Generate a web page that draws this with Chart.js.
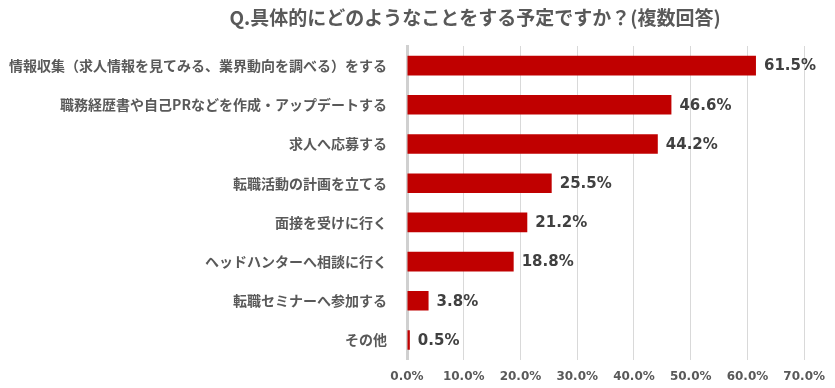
<!DOCTYPE html>
<html><head><meta charset="utf-8">
<script src="https://cdn.jsdelivr.net/npm/chart.js@4/dist/chart.umd.min.js"></script>
<style>html,body{margin:0;padding:0;background:#fff;}#wrap{width:835px;height:388px;position:relative;}</style>
</head><body><div id="wrap"><canvas id="c" width="835" height="388"></canvas></div>
<script>
const titleText = "Q.具体的にどのようなことをする予定ですか？(複数回答)";
const categories = [
  "情報収集（求人情報を見てみる、業界動向を調べる）をする",
  "職務経歴書や自己PRなどを作成・アップデートする",
  "求人へ応募する",
  "転職活動の計画を立てる",
  "面接を受けに行く",
  "ヘッドハンターへ相談に行く",
  "転職セミナーへ参加する",
  "その他"
];
const values = [61.5, 46.6, 44.2, 25.5, 21.2, 18.8, 3.8, 0.5];
const xTicks = [0, 10, 20, 30, 40, 50, 60, 70];

const cjk = '"Noto Sans CJK JP", "Noto Sans", sans-serif';
const latin = '"DejaVu Sans", Verdana, sans-serif';

const titlePlugin = {
  id: 'customTitle',
  afterDraw(chart) {
    const ctx = chart.ctx;
    ctx.save();
    ctx.font = 'bold 19px ' + cjk;
    ctx.fillStyle = '#595959';
    ctx.textAlign = 'center';
    ctx.textBaseline = 'middle';
    ctx.fillText(titleText, 475, 18);
    ctx.restore();
  }
};
const labelPlugin = {
  id: 'valueLabels',
  afterDatasetsDraw(chart) {
    const ctx = chart.ctx;
    const meta = chart.getDatasetMeta(0);
    ctx.save();
    ctx.font = 'bold 15px ' + latin;
    ctx.fillStyle = '#404040';
    ctx.textAlign = 'left';
    ctx.textBaseline = 'middle';
    meta.data.forEach((bar, i) => {
      ctx.fillText(values[i].toFixed(1) + '%', bar.x + 8, bar.y + 1);
    });
    ctx.restore();
  }
};

new Chart(document.getElementById('c'), {
  type: 'bar',
  data: {
    labels: categories,
    datasets: [{
      data: values,
      backgroundColor: '#C00000',
      borderWidth: 0,
      barPercentage: 0.5,
      categoryPercentage: 1.0
    }]
  },
  options: {
    indexAxis: 'y',
    responsive: false,
    animation: false,
    devicePixelRatio: 1,
    layout: { padding: { top: 46, right: 29, left: 0, bottom: 0 } },
    plugins: { legend: { display: false }, title: { display: false }, tooltip: { enabled: false } },
    scales: {
      x: {
        min: 0, max: 70,
        afterBuildTicks(s) { s.ticks = xTicks.map(v => ({ value: v })); },
        afterFit(s) { s.height = 28; },
        grid: { color: '#D9D9D9', lineWidth: 1, drawTicks: false },
        border: { display: false },
        ticks: {
          padding: 10,
          color: '#595959',
          font: { family: latin, size: 12, weight: 'bold' },
          callback: v => Number(v).toFixed(1) + '%'
        }
      },
      y: {
        afterFit(s) { s.width = 407; },
        grid: { display: false, drawTicks: false },
        border: { display: true, color: '#D0D0D0', width: 3 },
        ticks: {
          padding: 20,
          color: '#595959',
          font: { family: cjk, size: 14, weight: 'bold' }
        }
      }
    }
  },
  plugins: [titlePlugin, labelPlugin]
});
</script></body></html>
